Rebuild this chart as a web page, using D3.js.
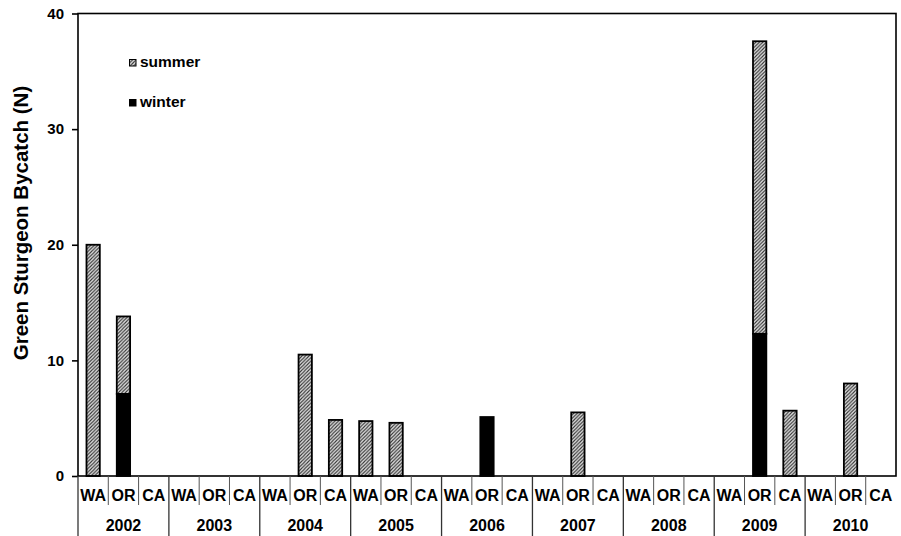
<!DOCTYPE html>
<html><head><meta charset="utf-8">
<script src="https://cdn.jsdelivr.net/npm/d3@7"></script>
<style>
html,body{margin:0;padding:0;background:#fff;}
svg{display:block;font-family:"Liberation Sans",Arial,sans-serif;font-weight:bold;}
</style></head>
<body><svg id="c" width="901" height="536"></svg>
<script>
const years = ["2002","2003","2004","2005","2006","2007","2008","2009","2010"];
const states = ["WA","OR","CA"];
// values per year, in order WA, OR, CA
const winter = [
  [0,7.1,0],[0,0,0],[0,0,0],[0,0,0],[0,5.1,0],[0,0,0],[0,0,0],[0,12.3,0],[0,0,0]
];
const summer = [
  [20,6.7,0],[0,0,0],[0,10.5,4.85],[4.75,4.6,0],[0,0,0],[0,5.5,0],[0,0,0],[0,25.3,5.65],[0,8.0,0]
];
const yTicks = [0,10,20,30,40];
const seriesNames = ["summer","winter"];

const svg = d3.select("#c");
const L = 78, R = 896, T = 13.5, B = 476;

const cats = [];
years.forEach((yr,i)=>states.forEach((s,j)=>cats.push({key:yr+"-"+s, year:yr, state:s, winter:winter[i][j], summer:summer[i][j]})));

const x = d3.scaleBand().domain(cats.map(d=>d.key)).range([L,R]).paddingInner(0.56).paddingOuter(0.28);
const xb = d3.scaleBand().domain(cats.map(d=>d.key)).range([L,R]);
const y = d3.scaleLinear().domain([0,40]).range([B,T]);

const defs = svg.append("defs");
const pat = defs.append("pattern").attr("id","hatch").attr("patternUnits","userSpaceOnUse").attr("width",3.5).attr("height",3.5);
pat.append("rect").attr("width",3.5).attr("height",3.5).attr("fill","#e6e6e6");
pat.append("path").attr("d","M-1,1 L1,-1 M0,3.5 L3.5,0 M2.5,4.5 L4.5,2.5").attr("stroke","#333").attr("stroke-width",1.1);

const stack = d3.stack().keys(["winter","summer"])(cats);

stack.forEach(layer=>{
  svg.append("g").selectAll("rect").data(layer.filter(d=>d[1]-d[0]>0)).join("rect")
    .attr("x",d=>x(d.data.key)).attr("width",x.bandwidth())
    .attr("y",d=>y(d[1])).attr("height",d=>y(d[0])-y(d[1]))
    .attr("fill",layer.key==="summer"?"url(#hatch)":"#000")
    .attr("stroke","#000").attr("stroke-width",1.8);
});

// frame
svg.append("rect").attr("x",L).attr("y",T).attr("width",R-L).attr("height",B-T)
  .attr("fill","none").attr("stroke","#000").attr("stroke-width",1.6);

// y axis
const ya = svg.append("g").attr("transform",`translate(${L},0)`)
  .call(d3.axisLeft(y).tickValues(yTicks).tickSize(6).tickPadding(8));
ya.select(".domain").remove();
ya.selectAll("line").attr("stroke","#000").attr("stroke-width",1.6);
ya.selectAll("text").attr("font-size",15).attr("font-weight","bold").attr("fill","#000")
  .attr("font-family","'Liberation Sans',Arial,sans-serif");

// category separators
const sep = svg.append("g");
cats.forEach((d,i)=>{
  const x0 = xb(d.key);
  const isYear = i%3===0;
  sep.append("line").attr("x1",x0).attr("x2",x0).attr("y1",B).attr("y2",isYear?536:505)
    .attr("stroke",isYear?"#333":"#555").attr("stroke-width",isYear?1.3:1);
});

// category labels
svg.append("g").selectAll("text").data(cats).join("text")
  .attr("x",d=>xb(d.key)+xb.bandwidth()/2).attr("y",501)
  .attr("text-anchor","middle").attr("font-size",16).attr("fill","#000")
  .text(d=>d.state);

// year labels
svg.append("g").selectAll("text").data(years).join("text")
  .attr("x",(d,i)=>xb(d+"-WA")+xb.bandwidth()*1.5).attr("y",531)
  .attr("text-anchor","middle").attr("font-size",16).attr("fill","#000")
  .text(d=>d);

// y title
svg.append("text").attr("transform","translate(28,223) rotate(-90)")
  .attr("text-anchor","middle").attr("font-size",20.5).attr("fill","#000")
  .text("Green Sturgeon Bycatch (N)");

// legend
const lg = svg.append("g");
seriesNames.forEach((s,i)=>{
  const yy = 59.5 + i*40;
  lg.append("rect").attr("x",129.5).attr("y",yy).attr("width",6.5).attr("height",6.5)
    .attr("fill",s==="summer"?"url(#hatch)":"#000").attr("stroke","#000").attr("stroke-width",1);
  lg.append("text").attr("x",140).attr("y",yy+7).attr("font-size",15.5).attr("fill","#000").text(s);
});
</script></body></html>
